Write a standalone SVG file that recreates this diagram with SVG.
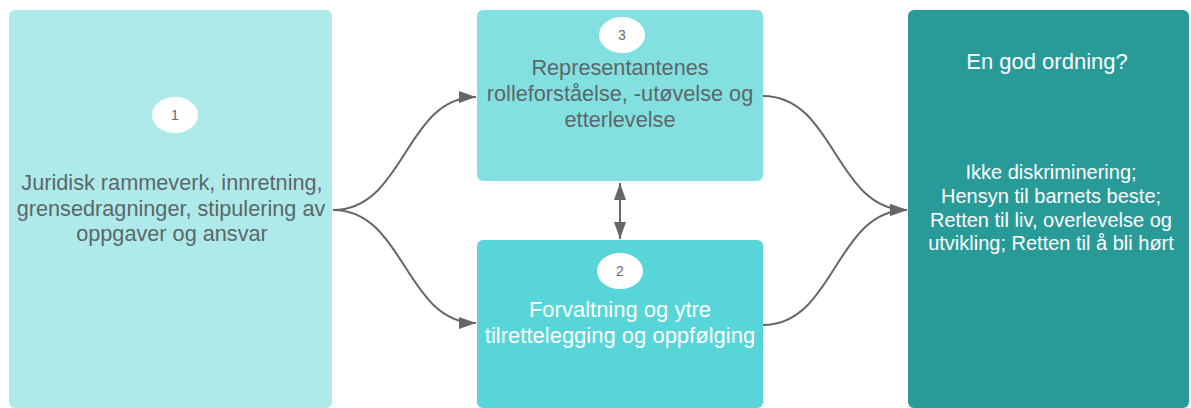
<svg xmlns="http://www.w3.org/2000/svg" width="1191" height="408" viewBox="0 0 1191 408">
<defs>
<style>
.t{font-family:"Liberation Sans",Arial,sans-serif;text-anchor:middle}
.g{fill:#5c6767;font-size:21.7px}
.w{fill:#ffffff;font-size:22px}
.s{font-size:20px}
.n{fill:#6a6a6a;font-size:14px}
.c{fill:none;stroke:#666666;stroke-width:2}
</style>
<marker id="ah" viewBox="0 0 17 12" refX="17" refY="6" markerWidth="17" markerHeight="12" markerUnits="userSpaceOnUse" orient="auto-start-reverse">
<path d="M0,0 L17,6 L0,12 Z" fill="#666666"/>
</marker>
</defs>
<rect width="1191" height="408" fill="#ffffff"/>
<g id="node1">
<rect x="9" y="10" width="323" height="398" rx="6" fill="#aeeaea"/>
<ellipse cx="175" cy="115" rx="23" ry="18" fill="#ffffff"/>
<text class="t n" x="175" y="120">1</text>
<text class="t g" x="172" y="190">Juridisk rammeverk, innretning,</text>
<text class="t g" x="171" y="216">grensedragninger, stipulering av</text>
<text class="t g" x="172" y="241">oppgaver og ansvar</text>
</g>
<g id="node3">
<rect x="477" y="10" width="286" height="171" rx="6" fill="#83e0e0"/>
<ellipse cx="622" cy="35" rx="23" ry="18" fill="#ffffff"/>
<text class="t n" x="622" y="40">3</text>
<text class="t g" x="620" y="75">Representantenes</text>
<text class="t g" x="620" y="101">rolleforståelse, -utøvelse og</text>
<text class="t g" x="620" y="127">etterlevelse</text>
</g>
<g id="node2">
<rect x="477" y="240" width="286" height="168" rx="6" fill="#57d5d8"/>
<ellipse cx="620" cy="271" rx="23" ry="18" fill="#ffffff"/>
<text class="t n" x="620" y="276">2</text>
<text class="t w" x="620" y="317">Forvaltning og ytre</text>
<text class="t w" x="620" y="343">tilrettelegging og oppfølging</text>
</g>
<g id="node4">
<rect x="908" y="10" width="281" height="398" rx="6" fill="#289b99"/>
<text class="t w" x="1047" y="69">En god ordning?</text>
<text class="t w s" x="1051" y="179">Ikke diskriminering;</text>
<text class="t w s" x="1051" y="203">Hensyn til barnets beste;</text>
<text class="t w s" x="1051" y="227">Retten til liv, overlevelse og</text>
<text class="t w s" x="1051" y="250">utvikling; Retten til å bli hørt</text>
</g>
<g id="connectors">
<path class="c" d="M333,210 C405,210 405,97 476,97" marker-end="url(#ah)"/>
<path class="c" d="M333,210 C405,210 405,323 476,323" marker-end="url(#ah)"/>
<path class="c" d="M763,96 C835,96 835,210 907,210" marker-end="url(#ah)"/>
<path class="c" d="M763,325 C835,325 835,210 907,210" marker-end="url(#ah)"/>
<path class="c" d="M620,183 L620,239" marker-start="url(#ah)" marker-end="url(#ah)"/>
</g>
</svg>
